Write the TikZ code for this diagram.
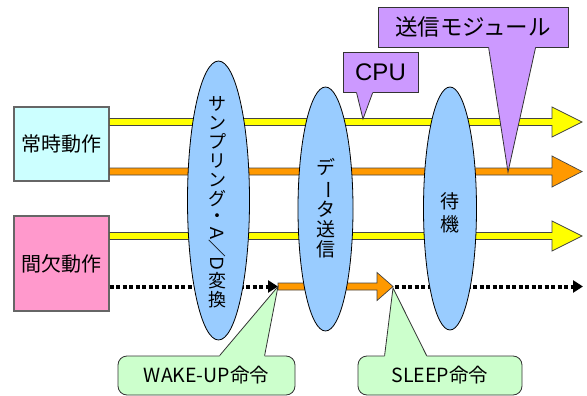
\documentclass[tikz,border=0pt]{standalone}
\usepackage{fontspec}
\setmainfont{Noto Sans CJK JP}
\newfontfamily\latinf{Liberation Sans}
\usepackage{graphicx}
\usetikzlibrary{shapes.geometric,arrows.meta,calc}
\definecolor{cyanbox}{HTML}{CCFFFF}
\definecolor{pinkbox}{HTML}{FF99CC}
\definecolor{ellblue}{HTML}{99CCFF}
\definecolor{purp}{HTML}{CC99FF}
\definecolor{lgreen}{HTML}{CCFFCC}
\definecolor{yel}{HTML}{FFFF00}
\definecolor{org}{HTML}{FF9900}
\definecolor{boxgray}{HTML}{666666}
\definecolor{arrgray}{HTML}{444444}
\definecolor{callgray}{HTML}{333333}
\newcommand\blockarrow[6]{%
  \draw[arrowline, fill=#6] ($(#1)+(0,-#4)$) -- ($(#2)+(-#3,-#4)$) -- ($(#2)+(-#3,-#5)$) -- (#2)
    -- ($(#2)+(-#3,#5)$) -- ($(#2)+(-#3,#4)$) -- ($(#1)+(0,#4)$) -- cycle;}
\newcommand\vbar{\rotatebox[origin=c]{-90}{ー}}
\begin{document}
\begin{tikzpicture}[x=1pt,y=-1pt,
  modebox/.style={draw=boxgray, line width=1.2pt, inner sep=0pt, font=\fontsize{20}{24}\selectfont},
  ell/.style={ellipse, draw=black, line width=0.8pt, fill=ellblue, inner sep=0pt},
  vtext/.style={align=center, inner sep=0pt, font=\fontsize{18}{19}\selectfont},
  arrowline/.style={draw=arrgray, line width=0.7pt},
  dotline/.style={line width=4pt, dash pattern=on 4pt off 2.5pt, -{Triangle[length=10pt,width=12pt]}},
  pbox/.style={draw=callgray, line width=0.8pt, fill=purp, inner sep=0pt},
  gbox/.style={draw=callgray, line width=0.8pt, fill=lgreen, rounded corners=9pt, inner sep=0pt, font=\fontsize{19.5}{22}\selectfont},
  ptrline/.style={draw=callgray, line width=0.8pt},
]
\fill[white] (0,0) rectangle (587,396);
\useasboundingbox (0,0) rectangle (587,396);

% mode boxes
\node[modebox, fill=cyanbox, minimum width=95pt, minimum height=74pt] (always) at (61.5,144) {常時動作};
\node[modebox, fill=pinkbox, minimum width=95pt, minimum height=95pt] (inter) at (61.5,263.5) {間欠動作};

% arrow end points
\coordinate (r1s) at (always.east |- 0,122);
\coordinate (r1e) at (582,122);
\coordinate (r2s) at (always.east |- 0,171.5);
\coordinate (r2e) at (582,171.5);
\coordinate (r3s) at (inter.east |- 0,236);
\coordinate (r3e) at (582,236);
\coordinate (r4s) at (inter.east |- 0,286.5);
\coordinate (wk) at (278,286.5);
\coordinate (sl) at (393,286.5);
\coordinate (d2s) at (395,286.5);
\coordinate (d2e) at (583,286.5);

\blockarrow{r1s}{r1e}{30}{3.5}{15}{yel}
\blockarrow{r2s}{r2e}{30}{3.5}{15.5}{org}
\blockarrow{r3s}{r3e}{30}{3.5}{15}{yel}
\draw[dotline] (r4s) -- (wk);
\blockarrow{wk}{sl}{16}{3.5}{14}{org}
\draw[dotline] (d2s) -- (d2e);

% ellipses
\node[ell, minimum width=62pt, minimum height=279pt] (e1) at (218.5,200.5) {};
\node[ell, minimum width=55pt, minimum height=244pt] (e2) at (325.5,209) {};
\node[ell, minimum width=53pt, minimum height=243pt] (e3) at (450,208.5) {};
\node[vtext] (e1t) at ($(e1.center)+(-1,2)$) {サ\\ン\\プ\\リ\\ン\\グ\\[-2pt]・\\[1pt]\rotatebox[origin=c]{-90}{Ａ\kern-3pt／\kern-3ptＤ}\\[-1pt]変\\換};
\node[vtext, font=\fontsize{19}{20}\selectfont] (e2t) at ($(e2.center)+(0,-1)$) {デ\\\vbar\\タ\\送\\信};
\node[vtext, font=\fontsize{19}{23}\selectfont] (e3t) at ($(e3.center)+(0,4)$) {待\\機};

% purple callouts
\coordinate (cpuTip) at (363,119);
\coordinate (modTip) at (508,172);
\node[pbox, minimum width=75pt, minimum height=40pt, font=\latinf\fontsize{24}{28}\selectfont] (cpu) at (380.5,72.5) {CPU};
\coordinate (cpuL) at ($(cpu.south west)+(14,0)$);
\coordinate (cpuR) at ($(cpu.south west)+(30,0)$);
\fill[purp] ($(cpuL)+(0,-1.5)$) -- (cpuL) -- (cpuTip) -- (cpuR) -- ($(cpuR)+(0,-1.5)$) -- cycle;
\draw[ptrline] (cpuL) -- (cpuTip) -- (cpuR);

\node[pbox, minimum width=190pt, minimum height=40pt, font=\fontsize{22.5}{26}\selectfont] (mod) at (473,27) {送信モジュール};
\coordinate (modL) at ($(mod.south west)+(111,0)$);
\coordinate (modR) at ($(mod.south west)+(158,0)$);
\fill[purp] ($(modL)+(0,-1.5)$) -- (modL) -- (modTip) -- (modR) -- ($(modR)+(0,-1.5)$) -- cycle;
\draw[ptrline] (modL) -- (modTip) -- (modR);

% green callouts
\node[gbox, minimum width=177pt, minimum height=39pt] (wake) at (206.5,375.5) {WAKE-UP命令};
\coordinate (wakeL) at ($(wake.north west)+(102,0)$);
\coordinate (wakeR) at ($(wake.north west)+(147,0)$);
\fill[lgreen] ($(wakeL)+(0,1.5)$) -- (wakeL) -- (wk) -- (wakeR) -- ($(wakeR)+(0,1.5)$) -- cycle;
\draw[ptrline] (wakeL) -- (wk) -- (wakeR);

\node[gbox, minimum width=164pt, minimum height=39pt] (sleep) at (440,375.5) {SLEEP命令};
\coordinate (sleepL) at ($(sleep.north west)+(27,0)$);
\coordinate (sleepR) at ($(sleep.north west)+(69,0)$);
\coordinate (slTip) at (393,288);
\fill[lgreen] ($(sleepL)+(0,1.5)$) -- (sleepL) -- (slTip) -- (sleepR) -- ($(sleepR)+(0,1.5)$) -- cycle;
\draw[ptrline] (sleepL) -- (slTip) -- (sleepR);
\end{tikzpicture}
\end{document}
